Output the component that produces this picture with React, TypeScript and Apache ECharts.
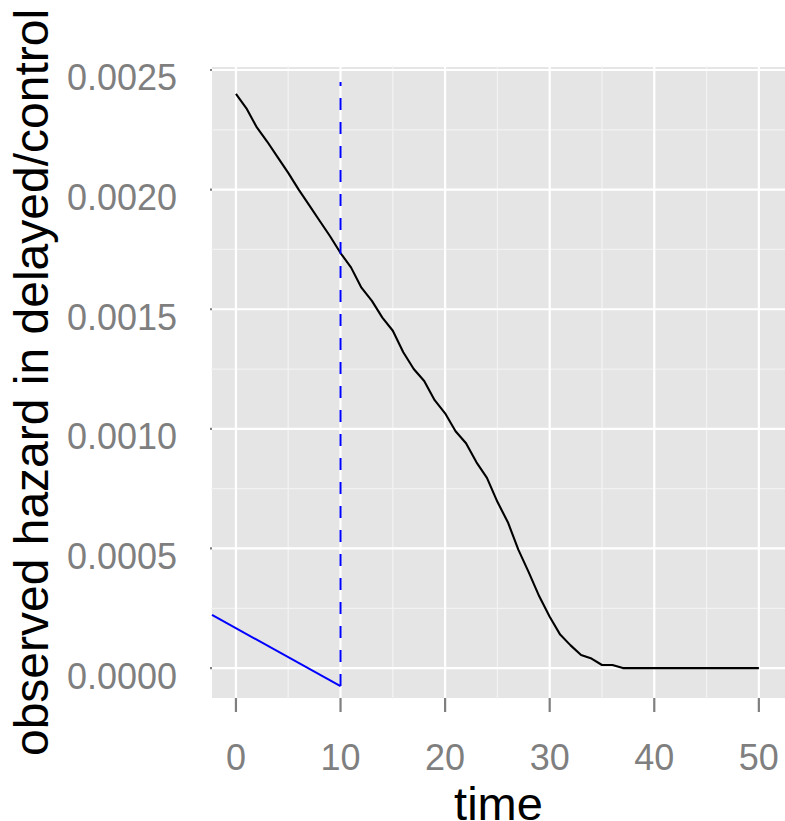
import React, { useEffect, useRef } from "react";
import * as echarts from "echarts";

const times = [
  0, 1, 2, 3, 4, 5, 6, 7, 8, 9, 10, 11, 12, 13, 14, 15, 16, 17, 18, 19, 20,
  21, 22, 23, 24, 25, 26, 27, 28, 29, 30, 31, 32, 33, 34, 35, 36, 37, 38, 39,
  40, 41, 42, 43, 44, 45, 46, 47, 48, 49, 50,
];
const hazard = [
  0.0024, 0.00234, 0.00226, 0.0022, 0.002135, 0.00207, 0.002, 0.001935,
  0.00187, 0.001805, 0.001735, 0.001675, 0.00159, 0.001535, 0.001465, 0.00141,
  0.00132, 0.00125, 0.0012, 0.00112, 0.001065, 0.00099, 0.00094, 0.00086,
  0.000795, 0.000695, 0.00061, 0.000495, 0.0004, 0.0003, 0.000215, 0.00014,
  0.000095, 0.000055, 0.00004, 0.000013, 0.000013, 0, 0, 0, 0, 0, 0, 0, 0, 0,
  0, 0, 0, 0, 0,
];
const blueX = [-2.29, 10];
const blueY = [0.000222, -0.0000753];
const delayTime = 10;
const delayRange = [-0.0000753, 0.00245];

const xTicks = [0, 10, 20, 30, 40, 50];
const xMinor = [5, 15, 25, 35, 45];
const yTicks = [0, 0.0005, 0.001, 0.0015, 0.002, 0.0025];
const yMinor = [0.00025, 0.00075, 0.00125, 0.00175, 0.00225];

const X_MIN = -2.29;
const X_MAX = 52.5;
const Y_MIN = -0.000125;
const Y_MAX = 0.0025125;

const GRID_LEFT = 212;
const GRID_TOP = 67;
const GRID_W = 573;
const GRID_H = 631;
const TICK_LEN_X = 14;
const TICK_LEN_Y = 12;

const FONT = "'Liberation Sans', Arial, Helvetica, sans-serif";

function gridData(xs: number[], ys: number[]) {
  const out: any[] = [];
  xs.forEach((v) => {
    out.push([v, Y_MIN - 1], [v, Y_MAX + 1], "-");
  });
  ys.forEach((v) => {
    out.push([X_MIN - 100, v], [X_MAX + 100, v], "-");
  });
  return out;
}

function tickData() {
  const dy = (TICK_LEN_X / GRID_H) * (Y_MAX - Y_MIN);
  const dx = (TICK_LEN_Y / GRID_W) * (X_MAX - X_MIN);
  const out: any[] = [];
  xTicks.forEach((v) => out.push([v, Y_MIN], [v, Y_MIN - dy], "-"));
  yTicks.forEach((v) => out.push([X_MIN, v], [X_MIN - dx, v], "-"));
  return out;
}

export default function App() {
  const ref = useRef<HTMLDivElement>(null);
  useEffect(() => {
    document.body.style.margin = "0";
    const chart = echarts.init(ref.current!, null, { renderer: "svg" });
    chart.setOption({
      animation: false,
      grid: {
        left: GRID_LEFT,
        top: GRID_TOP,
        width: GRID_W,
        height: GRID_H,
        show: true,
        backgroundColor: "#E5E5E5",
        borderWidth: 0,
        containLabel: false,
        outerBoundsMode: "none",
      },
      xAxis: {
        type: "value",
        min: X_MIN,
        max: X_MAX,
        name: "time",
        nameLocation: "middle",
        nameGap: 81,
        nameTextStyle: {
          color: "#000",
          fontSize: 47,
          lineHeight: 28,
          fontFamily: FONT,
        },
        axisLine: { show: false },
        splitLine: { show: false },
        axisTick: { show: false },
        axisLabel: {
          customValues: xTicks,
          color: "#7F7F7F",
          fontSize: 36,
          fontFamily: FONT,
          margin: 41,
          formatter: (v: number) => String(v),
        },
      },
      yAxis: {
        type: "value",
        min: Y_MIN,
        max: Y_MAX,
        name: "observed hazard in delayed/control",
        nameLocation: "middle",
        nameGap: 134,
        nameTextStyle: { color: "#000", fontSize: 48, fontFamily: FONT },
        axisLine: { show: false },
        splitLine: { show: false },
        axisTick: { show: false },
        axisLabel: {
          customValues: yTicks,
          color: "#7F7F7F",
          fontSize: 36,
          lineHeight: 16,
          fontFamily: FONT,
          margin: 35,
          formatter: (v: number) => "\n" + v.toFixed(4),
        },
      },
      series: [
        {
          type: "line",
          z: 1,
          silent: true,
          showSymbol: false,
          symbol: "none",
          clip: true,
          connectNulls: false,
          data: gridData(xMinor, yMinor),
          lineStyle: { color: "#F2F2F2", width: 1.3 },
        },
        {
          type: "line",
          z: 1,
          silent: true,
          showSymbol: false,
          symbol: "none",
          clip: true,
          connectNulls: false,
          data: gridData(xTicks, yTicks),
          lineStyle: { color: "#FFFFFF", width: 2.2 },
        },
        {
          type: "line",
          z: 1,
          silent: true,
          showSymbol: false,
          symbol: "none",
          clip: false,
          connectNulls: false,
          data: tickData(),
          lineStyle: { color: "#7F7F7F", width: 2.2 },
        },
        {
          type: "line",
          z: 3,
          showSymbol: false,
          symbol: "none",
          data: times.map((t, i) => [t, hazard[i]]),
          lineStyle: { color: "#000000", width: 2.1 },
        },
        {
          type: "line",
          z: 3,
          showSymbol: false,
          symbol: "none",
          clip: true,
          data: blueX.map((x, i) => [x, blueY[i]]),
          lineStyle: { color: "#0000FF", width: 2 },
        },
        {
          type: "line",
          z: 3,
          showSymbol: false,
          symbol: "none",
          data: delayRange.map((y) => [delayTime, y]),
          lineStyle: { color: "#0000FF", width: 2, type: [12, 12] },
        },
      ],
    });
    return () => chart.dispose();
  }, []);
  return <div ref={ref} style={{ width: 785, height: 821 }} />;
}
